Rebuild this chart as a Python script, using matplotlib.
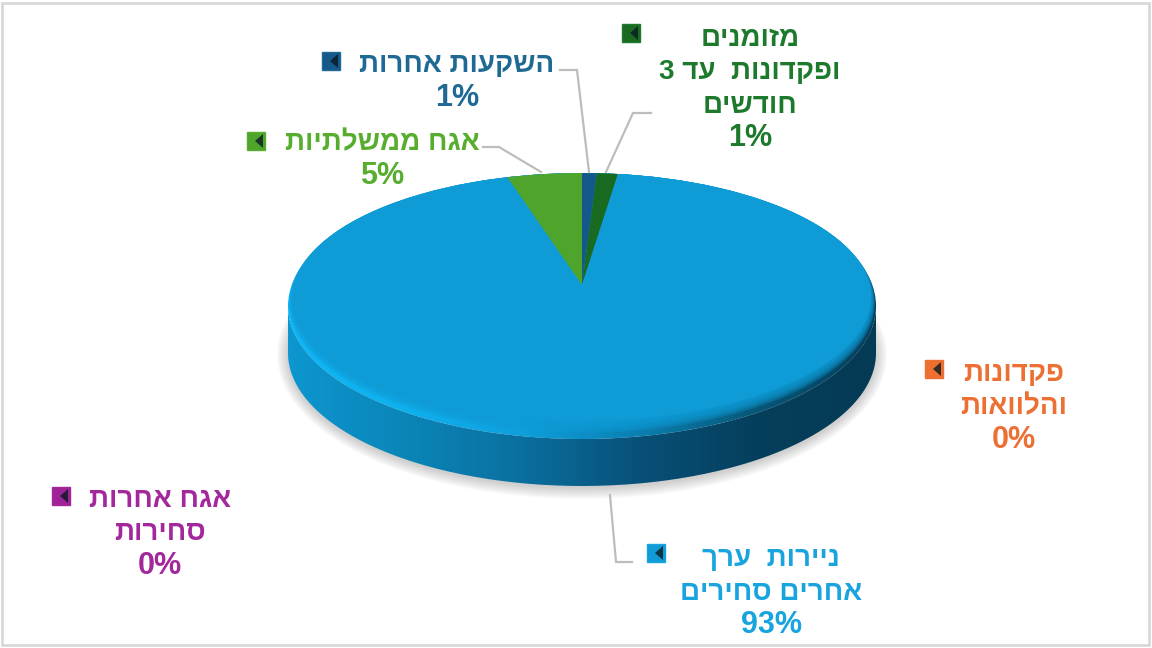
import numpy as np
import matplotlib
matplotlib.use("Agg")
import matplotlib.pyplot as plt
from matplotlib.colors import LinearSegmentedColormap
from matplotlib.patches import Ellipse, PathPatch, Polygon, Rectangle
from matplotlib.path import Path

plt.rcParams["font.family"] = ["Liberation Sans", "DejaVu Sans"]

# clockwise from 12 o'clock, lines as broken in the picture
categories = [
    ["השקעות אחרות"],
    ["מזומנים", "ופקדונות  עד 3", "חודשים"],
    ["פקדונות", "והלוואות"],
    ["ניירות  ערך", "אחרים סחירים"],
    ["אגח אחרות", "סחירות"],
    ["אגח ממשלתיות"],
]
values = [0.9, 1.3, 0.0, 93.2, 0.0, 4.6]

slice_colors = ["#15598A", "#1A6B22", "#EE7030", "#0E9BD6", "#A0229A", "#4FA52B"]
text_colors = ["#1F6A94", "#1D7A2C", "#EC7034", "#17A4DF", "#A2289C", "#57AD2E"]
# centre x and first baseline y of each label
label_xy = [(457, 72), (750, 46), (1014, 381), (771, 566), (160, 507), (382, 150)]
marker_xy = [(331, 61), (631, 33), (934, 369), (656, 553), (61, 496), (256, 141)]
leaders = [
    [(560, 70), (577, 70), (589, 172)],
    [(651, 113), (633, 113), (606, 172)],
    None,
    [(610, 495), (616, 562), (632, 562)],
    None,
    [(483, 147), (499, 147), (541, 172)],
]

CX, APEX_Y = 582, 285
RX, RY, TOP = 294, 133, 173
DEPTH = 47
CY = TOP + RY
LINE_PITCH = 33.5


def visual(s):
    # matplotlib has no bidi, glyphs go left to right
    return s[::-1]


def lower_arc(cy, n=200):
    t = np.linspace(0, np.pi, n)
    return CX + RX * np.cos(t), cy + RY * np.sin(t)


def rim_point(theta, rx, ry, cy):
    # ray from the off-centre apex to the squashed rim
    dx, dy = np.sin(theta), -np.cos(theta)
    py = (APEX_Y - cy) / ry
    b = py * dy
    s = -b + np.sqrt(b * b - (py * py - 1))
    return CX + rx * s * dx, cy + ry * (py + s * dy)


def hgrad(ax, colors, clip, extent):
    cmap = LinearSegmentedColormap.from_list("g", colors)
    im = ax.imshow(np.linspace(0, 1, 300)[None, :], cmap=cmap, extent=extent,
                   aspect="auto", zorder=3)
    im.set_clip_path(clip)


fig = plt.figure(figsize=(11.52, 6.48), dpi=100)
ax = fig.add_axes([0, 0, 1, 1])

# soft shadow under the disc
for i in range(12):
    grow = 11 - i
    ax.add_patch(Ellipse((CX, CY + DEPTH + 2), 2 * (RX + grow), 2 * (RY + grow),
                         fc="#777777", ec="none", alpha=0.03, zorder=1))

# side wall
xs, ys = lower_arc(CY)
xs2, ys2 = lower_arc(CY + DEPTH)
verts = np.r_[np.c_[xs, ys], np.c_[xs2, ys2][::-1], [[xs[0], ys[0]]]]
side = PathPatch(Path(verts), fc="none", ec="none", transform=ax.transData)
ax.add_patch(side)
hgrad(ax, ["#0D96CF", "#0B85B8", "#0A6F9E", "#085078", "#053F5C", "#053A55"], side,
      (CX - RX, CX + RX, CY + RY + DEPTH, CY))

# bevel round the top face
outer = Ellipse((CX, CY), 2 * RX, 2 * RY, fc="none", ec="none")
ax.add_patch(outer)
hgrad(ax, ["#10B6F5", "#0FB0EE", "#0E9FDC", "#0B7FB0", "#075778", "#053F5C"], outer,
      (CX - RX, CX + RX, CY + RY, CY - RY))

# top face, blended in over the bevel
face_rx, face_ry = RX - 5, RY - 9
for k in range(7):
    f = (6 - k) / 6
    rx, ry = face_rx + 4 * f, face_ry + 6 * f
    ax.add_patch(Ellipse((CX, TOP + ry), 2 * rx, 2 * ry, fc=slice_colors[3], ec="none",
                         alpha=0.3 if k < 6 else 1, zorder=4))

# slices from the values
shares = np.array(values) / sum(values)
edges = np.r_[0, np.cumsum(shares)] * 2 * np.pi
face_cy = TOP + face_ry
for a0, a1, color in zip(edges[:-1], edges[1:], slice_colors):
    if a1 <= a0:
        continue
    thetas = np.linspace(a0, a1, max(int(np.degrees(a1 - a0) * 2), 2))
    rim = [rim_point(t, face_rx, face_ry, face_cy) for t in thetas]
    ax.add_patch(Polygon([(CX, APEX_Y)] + rim, closed=True, fc=color, ec="none", zorder=5))

# leader lines
for pts in leaders:
    if pts:
        ax.plot(*zip(*pts), color="#BDBDBD", lw=1.6, solid_joinstyle="miter", zorder=6)

# labels and their little square keys
for lines, val, col, dark, xy, mxy in zip(categories, values, text_colors, slice_colors,
                                          label_xy, marker_xy):
    x, y = xy
    for i, line in enumerate(lines):
        ax.text(x, y + i * LINE_PITCH, visual(line), color=col, ha="center", va="baseline",
                fontsize=20, fontweight="bold", zorder=7)
    ax.text(x, y + len(lines) * LINE_PITCH, f"{val:.0f}%", color=col, ha="center",
            va="baseline", fontsize=22, fontweight="bold", zorder=7)
    mx, my = mxy
    ax.add_patch(Rectangle((mx - 9, my - 9), 18, 18, fc=dark, ec=col, lw=1, zorder=7))
    ax.add_patch(Polygon([(mx + 7, my - 7), (mx + 7, my + 7), (mx - 1, my)], closed=True,
                         fc="#0A1A22", ec="none", alpha=0.8, zorder=8))

# image frame
ax.add_patch(Rectangle((2, 3), 1147, 642, fc="none", ec="#D9D9D9", lw=2, zorder=9))

ax.set_xlim(0, 1152)
ax.set_ylim(648, 0)
ax.axis("off")
fig.savefig("out.png", dpi=100, facecolor="white")
plt.close(fig)
